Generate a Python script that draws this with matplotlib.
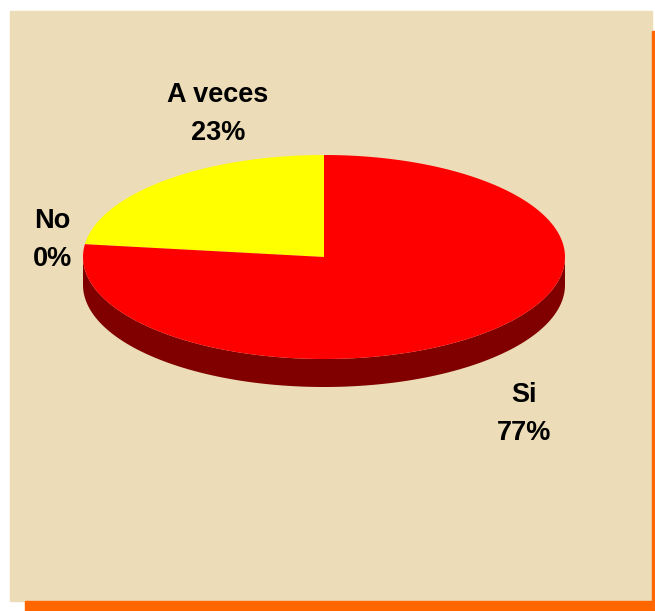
import numpy as np
import matplotlib.pyplot as plt
from matplotlib.patches import Polygon, Rectangle

categories = ["Si", "No", "A veces"]
values = [77, 0, 23]
pct_labels = ["77%", "0%", "23%"]
colors = ["#FF0000", "#FFFF00", "#FFFF00"]
side_colors = ["#800000", "#808000", "#808000"]

W, H = 655, 611
fig = plt.figure(figsize=(W / 100, H / 100), dpi=100)
ax = fig.add_axes([0, 0, 1, 1])
ax.set_xlim(0, W)
ax.set_ylim(H, 0)
ax.axis("off")

# background (parchment panel + orange frame)
ax.add_patch(Rectangle((10, 11), 642, 590, color="#ECDCB8", zorder=0))
ax.add_patch(Rectangle((652, 31), 3, 580, color="#FF6600", zorder=0))
ax.add_patch(Rectangle((25, 601), 630, 10, color="#FF6600", zorder=0))

# 3d pie geometry
cx, cy = 324, 257
a, b = 241, 102
depth = 28


def pt(theta, dy=0):
    t = np.radians(theta)
    return cx + a * np.cos(t), cy - b * np.sin(t) + dy


# slices go clockwise from 12 o'clock: A veces first (counter-clockwise in data)
order = [2, 1, 0]
total = sum(values)
start = 90.0
spans = {}
for i in order:
    ext = 360.0 * values[i] / total
    spans[i] = (start, start + ext)
    start += ext

# sides (front half: angles 180..360)
for i in order:
    s, e = spans[i]
    for off in (0, 360):
        lo, hi = max(s, 180 + off), min(e, 360 + off)
        if hi > lo:
            th = np.linspace(lo, hi, 120)
            top = [pt(t) for t in th]
            bot = [pt(t, depth) for t in th[::-1]]
            ax.add_patch(Polygon(top + bot, closed=True, color=side_colors[i],
                                 lw=0, zorder=2))

# tops
for i in order:
    s, e = spans[i]
    if e - s <= 0:
        continue
    th = np.linspace(s, e, 300)
    poly = [(cx, cy)] + [pt(t) for t in th]
    ax.add_patch(Polygon(poly, closed=True, color=colors[i], lw=0, zorder=3))

# labels
label_pos = {0: (524, 414), 1: (52, 240), 2: (218, 114)}
for i in range(len(categories)):
    x, y = label_pos[i]
    ax.text(x, y, categories[i] + "\n" + pct_labels[i], ha="center", va="center",
            fontsize=19.5, fontweight="bold", family="Liberation Sans",
            linespacing=1.55, zorder=5)

fig.savefig("out.png", dpi=100)
